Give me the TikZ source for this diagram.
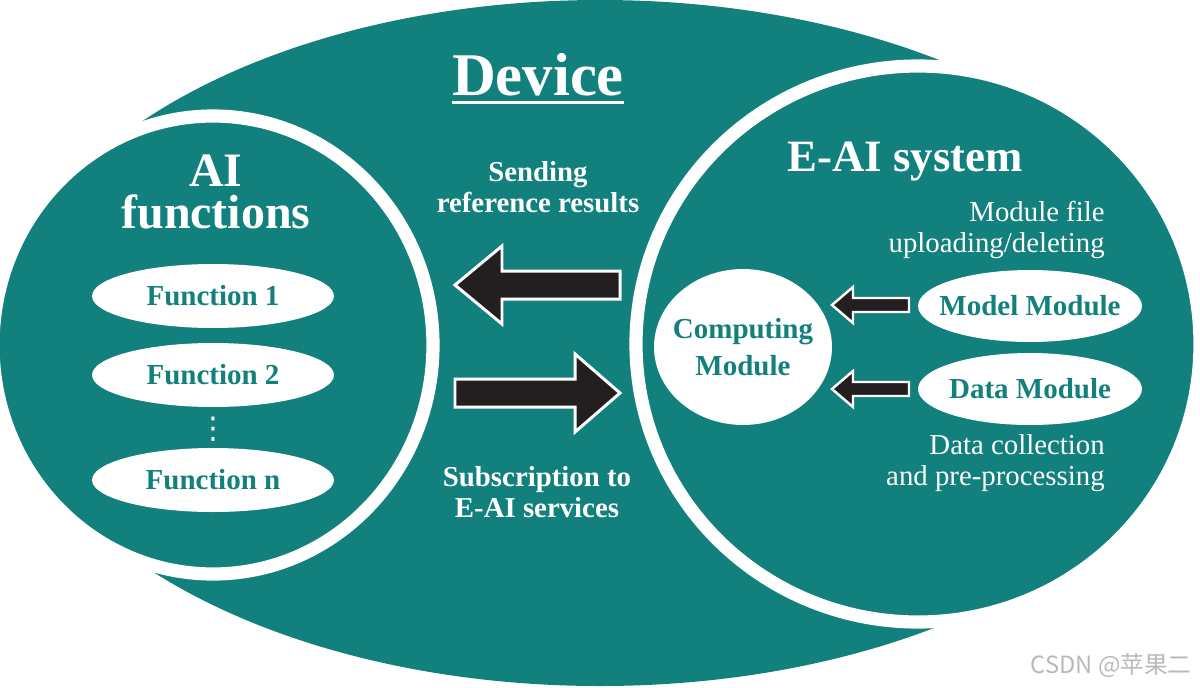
\documentclass[tikz,border=0pt]{standalone}
\usepackage{fontspec}
\setmainfont{Liberation Serif}
\newfontfamily\cjkfont{Noto Sans CJK SC}
\newfontfamily\symfont{DejaVu Sans}
\usetikzlibrary{shapes.geometric}
\definecolor{tealbg}{RGB}{18,128,124}
\definecolor{arrowdark}{RGB}{35,31,32}

\begin{document}
\begin{tikzpicture}
[x=0.02cm,y=-0.02cm, % one unit = one pixel, y down
ring/.style={fill=tealbg,draw=white,line width=7.5pt}, % the two parts, white border
module/.style={ellipse,fill=white,inner xsep=-8pt,inner ysep=0pt,text=tealbg,
  align=center,font=\bfseries\fontsize{16.5}{21.5}\selectfont},
plaintext/.style={text=white,inner sep=0pt,font=\fontsize{16.4}{17.6}\selectfont},
boldtext/.style={plaintext,align=center,font=\bfseries\fontsize{16.4}{17.6}\selectfont},
blockarrow/.style={fill=arrowdark,draw=white,line width=1.7pt,line join=miter}
]
\useasboundingbox (0,0) rectangle (1200,687);

% device
\fill[tealbg] (600,343) ellipse [x radius=600, y radius=343];
\draw[ring] (213,345) ellipse [x radius=220, y radius=229]; % AI functions
\draw[ring] (918,344) ellipse [x radius=282, y radius=278]; % E-AI system

\node[plaintext,anchor=base,font=\bfseries\fontsize{34.5}{40}\selectfont] (device) at (538,95) {Device};
\draw[white,line width=1.7pt] ([yshift=-4.5pt]device.base west) -- ([yshift=-4.5pt]device.base east);

% left part
\node[boldtext,font=\bfseries\fontsize{27.3}{23.4}\selectfont] (aititle) at (216,192) {AI\\functions};
\node[module,minimum width=4.84cm,minimum height=1.28cm] (func1) at (213,296) {Function 1};
\node[module,minimum width=4.84cm,minimum height=1.28cm] (func2) at (213,375) {Function 2};
\node[plaintext,font=\symfont\fontsize{17}{17}\selectfont] (dots) at (213,429) {⋮};
\node[module,minimum width=4.84cm,minimum height=1.28cm] (funcn) at (213,480) {Function n};

% middle
\node[boldtext] (sendtext) at (538,187) {Sending\\reference results};
\draw[blockarrow] (455,285) -- (502,246) -- (502,271) -- (620,271) -- (620,299) -- (502,299) -- (502,324) -- cycle;
\draw[blockarrow] (620,393) -- (575,354) -- (575,379) -- (455,379) -- (455,407) -- (575,407) -- (575,432) -- cycle;
\node[boldtext] (subtext) at (537,492) {Subscription to\\E-AI services};

% right part
\node[boldtext,anchor=base,font=\bfseries\fontsize{25.5}{30}\selectfont] (systitle) at (905,171) {E-AI system};
\node[plaintext,anchor=east,align=right] (uploadtext) at (1105,230) {Module file\\uploading/deleting};
\node[module,minimum width=3.56cm,minimum height=3.12cm] (compute) at (743,347) {Computing\\Module};
\node[module,minimum width=4.48cm,minimum height=1.44cm] (model) at (1030,306) {Model Module};
\node[module,minimum width=4.48cm,minimum height=1.44cm] (data) at (1030,389) {Data Module};
\foreach \ya in {305,389}
  \draw[blockarrow,line width=1.4pt] (832,\ya) -- ++(21,-18) -- ++(0,11) -- ++(56,0) -- ++(0,14) -- ++(-56,0) -- ++(0,11) -- cycle;
\node[plaintext,anchor=east,align=right] (collecttext) at (1105,463) {Data collection\\and pre-processing};

\node[anchor=base east,inner sep=0pt,text=gray!55,font=\cjkfont\fontsize{13.5}{16}\selectfont] (mark) at (1192,673) {CSDN @苹果二};
\end{tikzpicture}
\end{document}
